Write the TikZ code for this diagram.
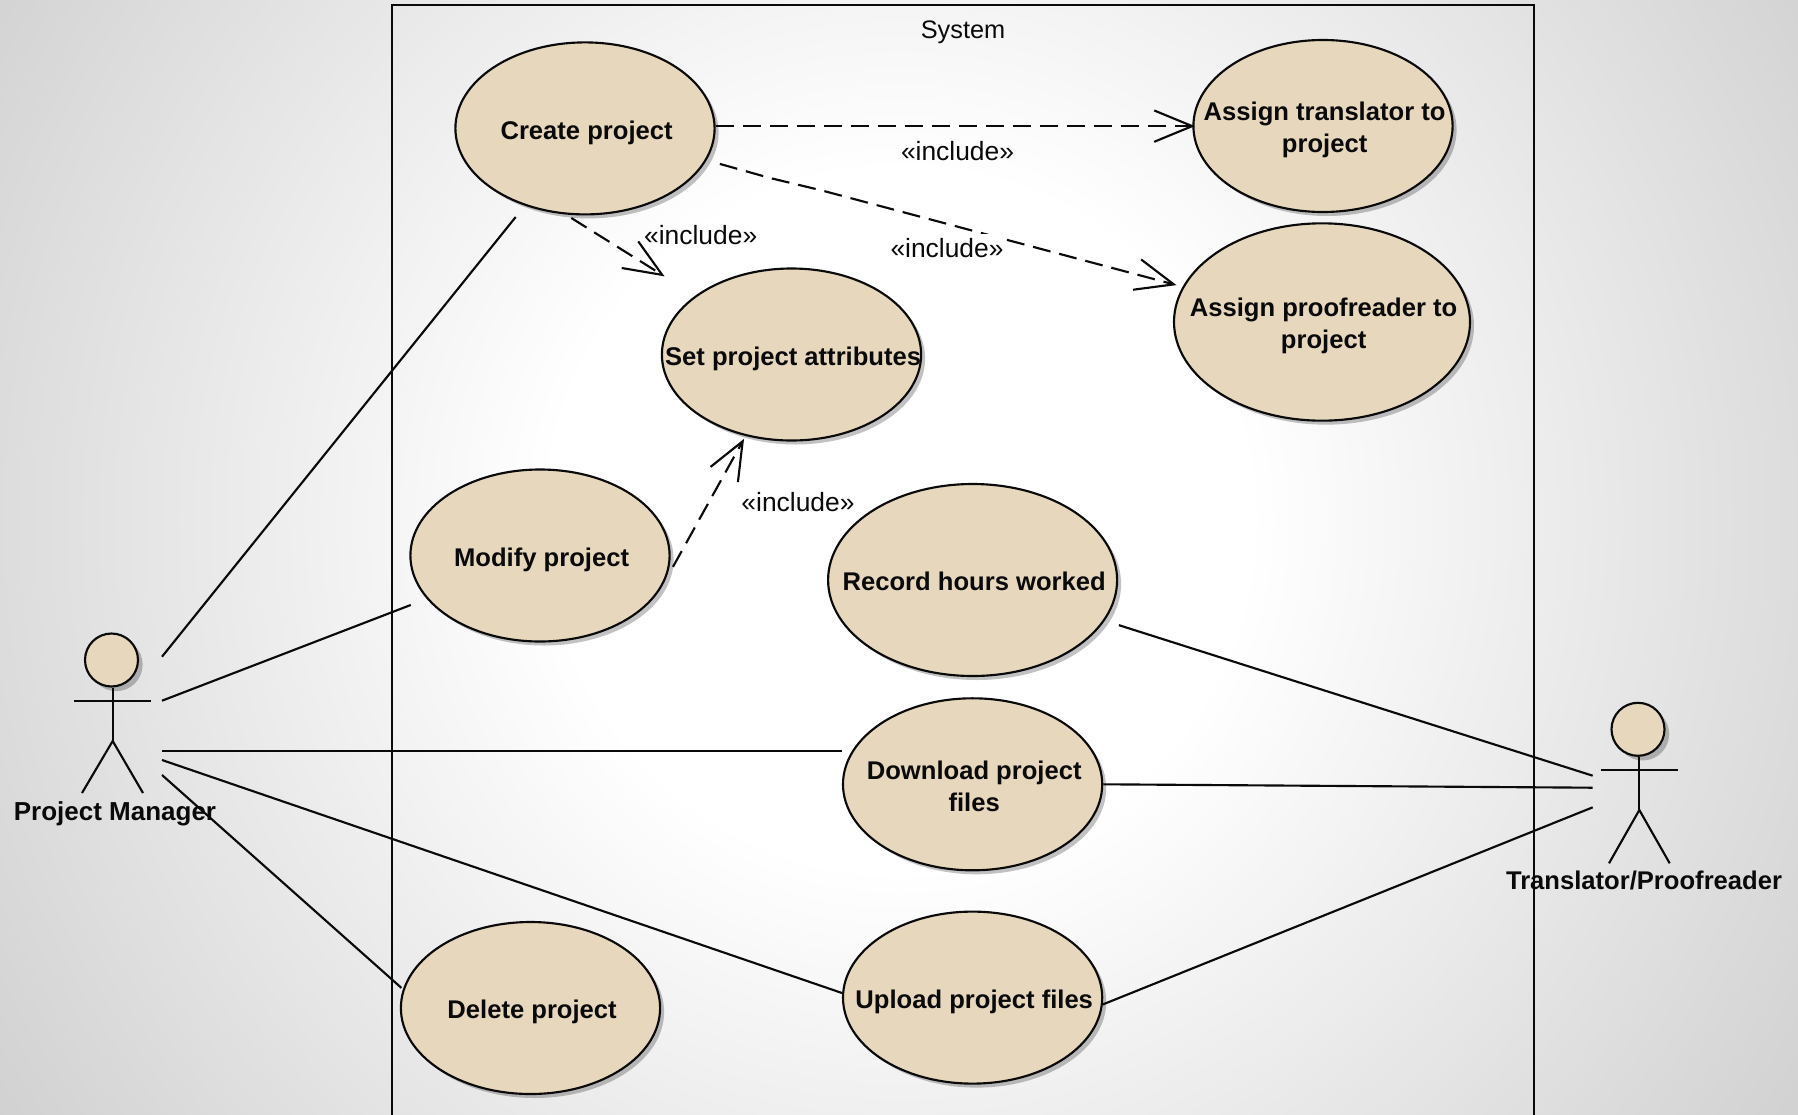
\documentclass[tikz,border=0pt]{standalone}
\usepackage{fontspec}
\setmainfont{Liberation Sans}
\usetikzlibrary{shapes.geometric,arrows.meta,shadows}
\definecolor{ucfill}{HTML}{E6D7BD}
\definecolor{bgedge}{HTML}{D6D6D6}
\definecolor{bgfar}{HTML}{CACACA}
\definecolor{inkc}{HTML}{0A0A0A}
\pgfdeclareradialshading{bgshade}{\pgfpoint{0bp}{0bp}}{color(0bp)=(white); color(261bp)=(white); color(747bp)=(bgedge); color(897bp)=(bgfar)}
\newcommand{\ucbold}{\fontsize{19.2}{24}\selectfont\bfseries}
\newcommand{\uctext}[1]{\makebox[0pt][c]{\hspace{2.4pt}\raisebox{0pt}[\dimexpr\height+6.6pt][\depth]{\begin{tabular}{@{}c@{}}#1\end{tabular}}}}
\tikzset{
  inkline/.style={draw=inkc,line width=1.6pt},
  usecase/.style n args={2}{ellipse,inkline,fill=ucfill,inner sep=0pt,minimum width=#1pt,minimum height=#2pt,
    text=inkc,font=\ucbold,drop shadow={shadow xshift=3pt,shadow yshift=-3pt,fill=black,opacity=0.24}},
  actorhead/.style={circle,inkline,fill=ucfill,inner sep=0pt,minimum size=39.75pt,
    drop shadow={shadow xshift=3.5pt,shadow yshift=-3.5pt,fill=black,opacity=0.24}},
  actorname/.style={font=\ucbold,text=inkc,inner sep=0pt},
  assoc/.style={inkline},
  incl/.style={inkline,dash pattern=on 13.5pt off 6.75pt,shorten >=-2pt,
    -{Straight Barb[length=28.5pt,width=23.5pt,line width=1.6pt]}},
  stereo/.style={font=\fontsize{19.8}{24}\selectfont,text=inkc,inner sep=0pt},
}
\begin{document}
\begin{tikzpicture}[x=0.75pt,y=-0.75pt]
\clip (0,0) rectangle (1798,1114);
\node[inner sep=0pt] (backdrop) at (900,520) {\pgfuseshading{bgshade}};

% system boundary
\node[rectangle,inkline,anchor=north west,inner sep=0pt,minimum width=857pt,minimum height=900pt] (system) at (390.5,4) {};
\node[stereo,font=\fontsize{19}{24}\selectfont] (systemname) at (963,32.5) {System};

% use cases
\node[usecase={194.4}{129}] (create) at (585,128.4) {\uctext{Create project}};
\node[usecase={194.4}{129}] (translator) at (1323,126) {\uctext{Assign translator to\\project}};
\node[usecase={222}{148}] (proofreader) at (1322,322) {\uctext{Assign proofreader to\\project}};
\node[usecase={194.4}{129}] (attributes) at (791.5,354.5) {\uctext{Set project attributes}};
\node[usecase={194.4}{129}] (modify) at (540,555.5) {\uctext{Modify project}};
\node[usecase={216.75}{144}] (record) at (972.6,580) {\uctext{Record hours worked}};
\node[usecase={194.4}{129}] (download) at (972.6,784.3) {\uctext{Download project\\files}};
\node[usecase={194.4}{129}] (upload) at (972.6,997.6) {\uctext{Upload project files}};
\node[usecase={194.4}{129}] (delete) at (530.5,1008) {\uctext{Delete project}};

% Project Manager actor
\node[actorhead] (pmhead) at (111.5,660) {};
\coordinate (pmneck) at (112.7,700.7);
\coordinate (pmhip) at (112.7,741);
\coordinate (pmarmL) at (74,700.7);
\coordinate (pmarmR) at (151,700.7);
\coordinate (pmfootL) at (82,793);
\coordinate (pmfootR) at (143,793);
\draw[assoc] (pmhead.south -| pmneck) -- (pmhip);
\draw[assoc] (pmarmL) -- (pmarmR);
\draw[assoc] (pmfootL) -- (pmhip) -- (pmfootR);
\node[actorname,font=\fontsize{19.5}{24}\selectfont\bfseries] (pm) at (115,814) {Project Manager};

% Translator/Proofreader actor
\node[actorhead] (tphead) at (1638,729.3) {};
\coordinate (tpneck) at (1639.3,770.3);
\coordinate (tphip) at (1639.3,810);
\coordinate (tparmL) at (1600.7,770.3);
\coordinate (tparmR) at (1677.7,770.3);
\coordinate (tpfootL) at (1609,863.3);
\coordinate (tpfootR) at (1669.7,863.3);
\draw[assoc] (tphead.south -| tpneck) -- (tphip);
\draw[assoc] (tparmL) -- (tparmR);
\draw[assoc] (tpfootL) -- (tphip) -- (tpfootR);
\node[actorname] (tp) at (1644,880.7) {Translator/Proofreader};

% actor ports
\coordinate (pmA) at (162,656.7);
\coordinate (pmB) at (162,700.7);
\coordinate (pmC) at (162,750.7);
\coordinate (pmD) at (162,760);
\coordinate (pmE) at (162,775);
\coordinate (tpA) at (1592.7,775.7);
\coordinate (tpB) at (1592.7,787.7);
\coordinate (tpC) at (1592.7,807.3);

% associations
\draw[assoc] (pmA) -- ([shift={(-9,11.4)}]create.-128.2);
\draw[assoc] (pmB) -- ([shift={(-16,6)}]modify.-159.1);
\draw[assoc] (pmC) -- (pmC -| download.west);
\draw[assoc] (pmD) -- (upload.178);
\draw[assoc] (pmE) -- ([shift={(-2,0)}]delete.171.4);
\draw[assoc] ([shift={(14,4.7)}]record.-17.1) -- (tpA);
\draw[assoc] (download.0.2) -- (tpB);
\draw[assoc] (upload.-3) -- (tpC);

% includes
\coordinate (bendA) at (770,178);
\coordinate (bendB) at (822,190.5);
\draw[incl] (create.1.2) -- (create.1.2 -| translator.west);
\draw[incl] ([shift={(12.5,5)}]create.-14.9) -- (bendA) -- (bendB) -- ([shift={(-9.7,-0.5)}]proofreader.165);
\draw[incl] ([shift={(0,3)}]create.-99.6) -- ([shift={(-33.9,-20)}]attributes.148.1);
\draw[incl] ([shift={(3.4,0)}]modify.-5) -- ([shift={(-3.5,5)}]attributes.-119.2);

% stereotypes
\node[stereo] (inclA) at (957.5,151.5) {«include»};
\node[stereo,fill=white,inner xsep=1.5pt,inner ysep=3.5pt] (inclB) at (947,248) {«include»};
\node[stereo] (inclC) at (700.7,235) {«include»};
\node[stereo] (inclD) at (798,501.7) {«include»};
\end{tikzpicture}
\end{document}
